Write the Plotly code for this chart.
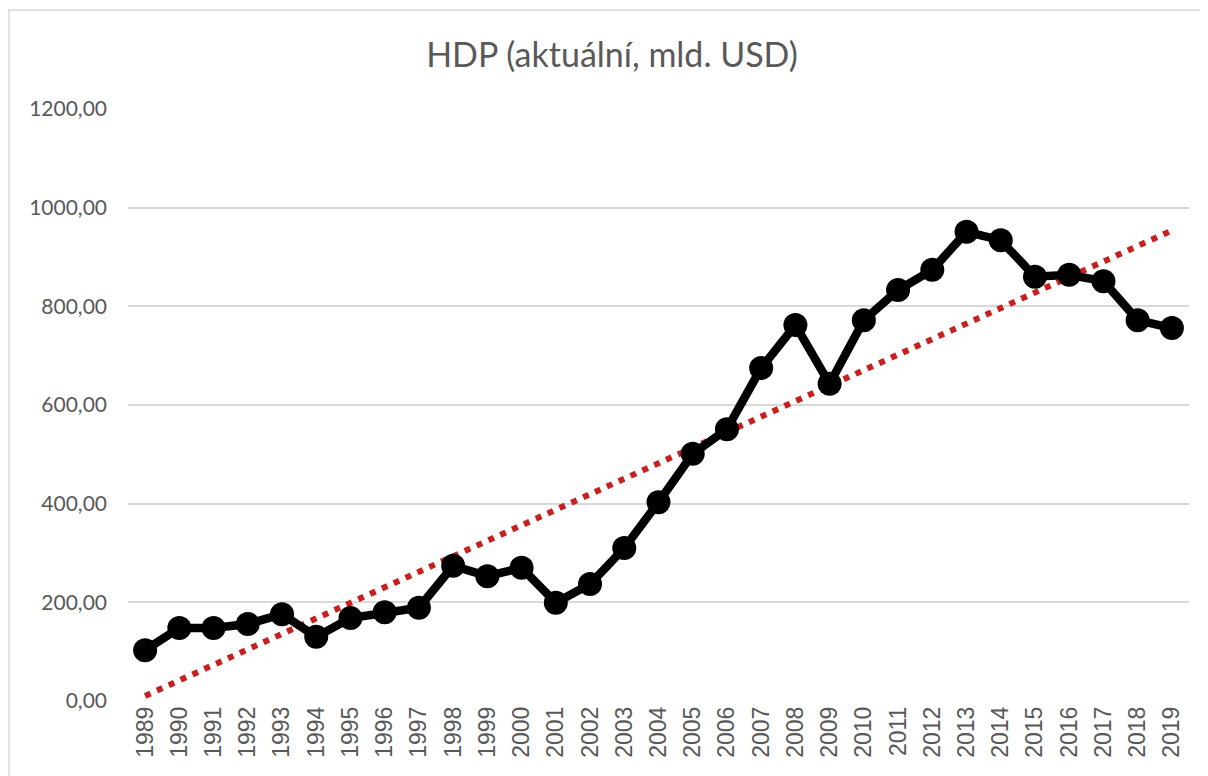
import numpy as np
import plotly.graph_objects as go

years = list(range(1989, 2020))
hdp = [103, 148, 148, 156, 176, 130, 168, 180, 189, 274,
       253, 270, 199, 237, 310, 403, 501, 551, 675, 762,
       643, 772, 833, 874, 951, 934, 860, 864, 851, 772, 756]
y_ticks = [0, 200, 400, 600, 800, 1000, 1200]

# lineární trend (jako spojnice trendu v Excelu)
slope, intercept = np.polyfit(years, hdp, 1)
trend = [slope * y + intercept for y in years]

# stránka má 8px okraj, proto je vše posunuto
W, H = 1208, 776
ml, mr, mt, mb = 120, 27, 101, 83
pw, ph = W - ml - mr, H - mt - mb

fig = go.Figure()

fig.add_trace(go.Scatter(
    x=years, y=trend, mode='lines',
    line=dict(color='#C8201F', width=6, dash='6px,7px'),
    hoverinfo='skip', showlegend=False
))

fig.add_trace(go.Scatter(
    x=years, y=hdp, mode='lines+markers',
    line=dict(color='black', width=8.5),
    marker=dict(color='black', size=24),
    showlegend=False
))

fig.update_layout(
    width=W, height=H,
    margin=dict(l=ml, r=mr, t=mt, b=mb),
    paper_bgcolor='white', plot_bgcolor='white',
    separators=', ',
    font=dict(family='Lato, Open Sans, sans-serif', color='#595959'),
    title=dict(
        text='HDP (aktuální, mld. USD)',
        x=0.5, xref='container', xanchor='center',
        y=1 - 47 / H, yanchor='middle',
        font=dict(size=34, color='#595959')
    ),
    xaxis=dict(
        range=[1988.5, 2019.5], automargin=False,
        tickvals=years, ticktext=[str(y) for y in years],
        tickangle=-90, showgrid=False, zeroline=False,
        showline=False, ticks='',
        tickfont=dict(family='Liberation Sans, Arial, sans-serif',
                      size=23, color='#595959')
    ),
    yaxis=dict(
        range=[0, 1200], tickvals=y_ticks, tickformat='.2f',
        automargin=False,
        showgrid=True, gridcolor='#D9D9D9', gridwidth=1.5,
        zeroline=False, showline=False, ticks='',
        ticklabelstandoff=20,
        tickfont=dict(size=21, color='#595959')
    ),
    shapes=[dict(
        type='rect', xref='paper', yref='paper',
        x0=(1 - ml) / pw, x1=(W + 10 - ml) / pw,
        y0=-(H + 20 - mt - ph) / ph, y1=1 + (mt - 2) / ph,
        line=dict(color='#D9D9D9', width=1.5), layer='below'
    )]
)

fig.write_html("out.html")
